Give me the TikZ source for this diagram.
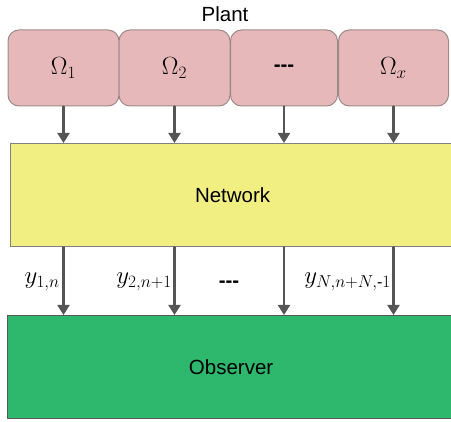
\documentclass[tikz,border=0pt]{standalone}
\usepackage{amsmath}
\usepackage{fontspec}
\setmainfont{Liberation Sans}
\usetikzlibrary{arrows.meta}

\definecolor{plantpink}{HTML}{E6B8B9}
\definecolor{plantedge}{HTML}{9C8A8B}
\definecolor{netyellow}{HTML}{F2EF82}
\definecolor{obsgreen}{HTML}{2DB86E}
\definecolor{arrowgray}{HTML}{555555}

\begin{document}
\begin{tikzpicture}[
			x=1pt, y=-1pt,
			every node/.style={font=\fontsize{20.5}{24}\selectfont},
			line cap=round,
			line join=round,
			mathlbl/.style={font=\fontsize{23}{26}\selectfont},
			plantbox/.style={draw=plantedge, fill=plantpink, line width=1pt, rounded corners=11pt, minimum height=76pt, inner sep=0pt, mathlbl},
			bigbox/.style={draw=#1, line width=1.2pt, inner sep=0pt, anchor=north west},
			sig/.style={draw=arrowgray, line width=2.2pt, -{Triangle[width=12pt,length=10pt]}}
			]
			\useasboundingbox (0,0) rectangle (451,422);
			
			% Plant
			\node (plant) at (225,14) {Plant};
			\node[plantbox, minimum width=111pt] (p1) at (63.5,68) {$\Omega_1$};
			\node[plantbox, minimum width=111pt] (p2) at (174.5,68) {$\Omega_2$};
			\node[plantbox, minimum width=107pt] (p3) at (284,68) {\fontsize{20.5}{24}\selectfont\textbf{-{}-{}-}};
			\node[plantbox, minimum width=110pt] (p4) at (393.5,68) {$\Omega_x$};
			
			% Network and observer
			\node[bigbox=gray, fill=netyellow, minimum width=444pt, minimum height=103pt] (net) at (10,143) {Network};
			\node[bigbox=black!65, fill=obsgreen, minimum width=447pt, minimum height=103pt] (obs) at (7,315) {Observer};
			
			% Plant to network
			\draw[sig] (p1.south) -- (p1.south |- net.north);
			\draw[sig] (p2.south) -- (p2.south |- net.north);
			\draw[sig] (p3.south) -- (p3.south |- net.north);
			\draw[sig] (p4.south) -- (p4.south |- net.north);
			
			% Network to observer
			\draw[sig] (p1 |- net.south) -- (p1 |- obs.north);
			\draw[sig] (p2 |- net.south) -- (p2 |- obs.north);
			\draw[sig] (p3 |- net.south) -- (p3 |- obs.north);
			\draw[sig] (p4 |- net.south) -- (p4 |- obs.north);
			
			% Output labels
			\node[mathlbl, anchor=east, inner sep=1pt] (y1) at (61,282) {$y_{1,n}$};
			\node[mathlbl, anchor=east, inner sep=1pt] (y2) at (173,282) {$y_{2,n+1}$};
			\node (dots) at (229,284) {\textbf{-{}-{}-}};
			\node[mathlbl, anchor=east, inner sep=1pt] (yN) at (392,282) {$y_{N,n+N,\text{-}1}$};
		\end{tikzpicture}
\end{document}
